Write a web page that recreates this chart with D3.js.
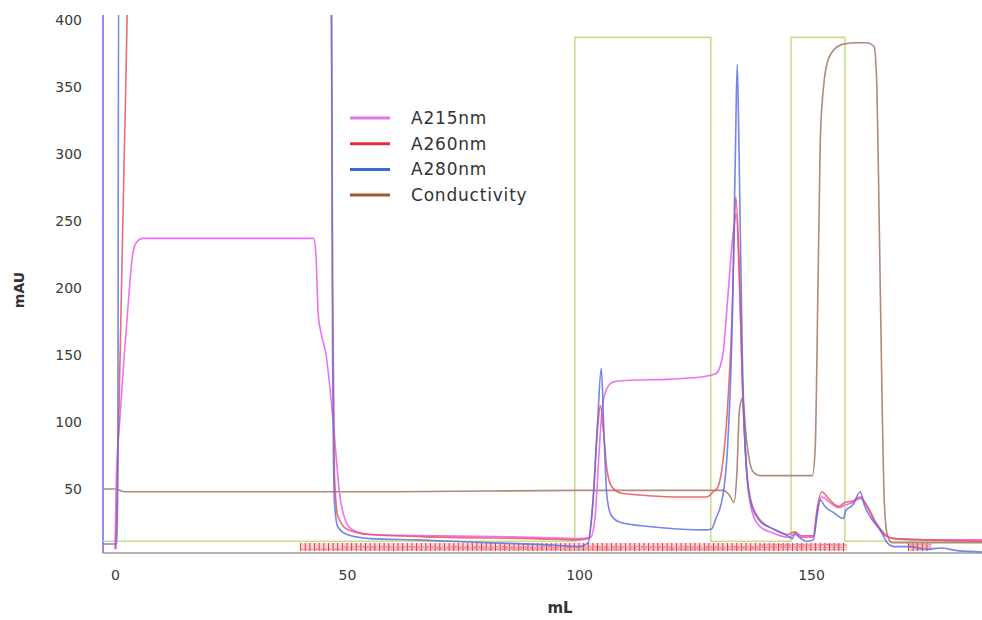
<!DOCTYPE html>
<html>
<head>
<meta charset="utf-8">
<script src="https://cdn.jsdelivr.net/npm/d3@7"></script>
<style>
  body { margin: 0; background: #fff; }
  svg { display: block; }
  text { font-family: "DejaVu Sans", Verdana, sans-serif; }
</style>
</head>
<body>
<svg id="chart"></svg>
<script>
// chromatogram traces, [mL, mAU]
const a215 = [[0, 5], [0.3, 60], [1, 100], [2, 150], [3, 195], [3.8, 225], [4.6, 234], [6, 237], [20, 237], [35, 237],
  [42.8, 237], [43.3, 225], [43.8, 180], [44.5, 165], [45.5, 150], [47, 101], [48.5, 44], [49.6, 27], [51, 20], [55, 16],
  [70, 15], [90, 14], [100, 13], [102.5, 14], [103.5, 30], [104.2, 70], [105, 110], [106, 125], [107.5, 130], [110, 131],
  [120, 132], [127, 134], [129.5, 136], [131, 150], [132, 190], [133.2, 240], [133.9, 255], [134.6, 200], [135.3, 120],
  [136.2, 60], [137.3, 33], [139, 22], [142, 17], [145, 14], [146.5, 16], [148, 14], [150.5, 14], [151.3, 32], [152.3, 44],
  [154, 40], [156, 36], [157.3, 38], [159, 40], [160.6, 43], [162, 37], [164, 24], [166, 15], [168, 13], [175, 12], [187, 12]];

const a260 = [[0.2, 5], [0.8, 100], [1.4, 200], [2.0, 300], [2.6, 400], [2.8, 450], [46.6, 450], [46.9, 200], [47.3, 60],
  [48, 30], [50, 20], [55, 16], [70, 14], [90, 13], [100, 12], [102, 13], [103, 40], [104, 95], [104.6, 112], [105.3, 92],
  [106, 65], [107, 52], [109, 47], [115, 45], [122, 44], [127.5, 44], [129, 48], [130, 52], [131, 70], [132, 110],
  [133, 180], [133.8, 268], [134.5, 220], [135.2, 130], [136, 70], [137, 42], [139, 27], [142, 20], [145, 16],
  [146.5, 18], [148, 15], [150.5, 15], [151.3, 35], [152.3, 48], [154, 42], [156, 37], [157.3, 40], [159, 41],
  [160.6, 44], [162, 38], [164, 25], [166, 16], [168, 13], [175, 12], [187, 11]];

const a280 = [[-2.5, 9], [0.4, 9], [0.6, 60], [0.8, 450], [46.6, 450], [46.9, 150], [47.3, 40], [48, 22], [50, 16], [55, 13],
  [65, 12], [80, 10], [95, 8], [100, 7], [102, 10], [103, 40], [104, 100], [104.8, 140], [105.4, 90], [106, 45], [107, 30],
  [109, 25], [115, 22], [122, 20], [127, 19.5], [128.5, 20], [129.5, 28], [131, 45], [132, 80], [133, 170], [133.7, 300],
  [134.1, 367], [134.5, 300], [135.2, 150], [136, 70], [137, 40], [139, 26], [142, 20], [145, 15], [146, 13], [146.5, 17],
  [147.5, 14], [149, 11], [150.5, 12], [151.3, 30], [151.9, 42], [153, 37], [155, 32], [157, 28], [157.5, 34], [159, 38],
  [160.6, 48], [161.5, 38], [163, 28], [165, 19], [166.4, 10], [168, 7], [171, 7], [175, 5], [178, 6], [181.5, 4], [187, 3]];

const conductivity = [[-2.6, 50], [0, 50], [2, 48], [10, 48], [40, 48], [60, 48], [100, 49], [120, 49], [131, 49],
  [132.5, 45], [133.4, 40], [134, 60], [134.6, 110], [135.3, 118], [136, 90], [136.8, 70], [137.5, 63], [139, 60],
  [150.3, 60], [150.9, 80], [151.5, 200], [152, 310], [152.7, 350], [153.5, 368], [155, 378], [157, 382], [160, 383],
  [162, 383], [163.6, 380], [164.2, 350], [164.7, 250], [165.3, 120], [165.8, 40], [166.5, 15], [167.5, 10], [187, 10]];

// valve / step trace
const stepTrace = [[-2.6, 11], [99.1, 11], [99.1, 387], [128.4, 387], [128.4, 11], [145.7, 11], [145.7, 387],
  [157.3, 387], [157.3, 11], [187, 11]];

// fraction collection ranges (mL)
const fractionRanges = [[40, 157.3], [171, 176]];

const yTicks = [50, 100, 150, 200, 250, 300, 350, 400];
const xTicks = [0, 50, 100, 150];

const legendItems = [
  { name: 'A215nm', color: '#e377e8' },
  { name: 'A260nm', color: '#e3303c' },
  { name: 'A280nm', color: '#2f6fd2' },
  { name: 'Conductivity', color: '#a0562f' }
];

const width = 982;
const height = 620;
const plotLeft = 103;
const plotTop = 15;
const plotBottom = 553;

let svg = d3.select('#chart')
  .attr('width', width)
  .attr('height', height);

let xScale = d3.scaleLinear().domain([0, 150]).range([115, 811]);
let yScale = d3.scaleLinear().domain([0, 400]).range([556, 20]);

svg.append('defs').append('clipPath')
  .attr('id', 'plot-clip')
  .append('rect')
  .attr('x', plotLeft)
  .attr('y', plotTop)
  .attr('width', width - plotLeft)
  .attr('height', plotBottom - plotTop);

// axes
let yAxis = d3.axisLeft(yScale).tickValues(yTicks).tickSize(0).tickPadding(0);
let yG = svg.append('g')
  .attr('transform', 'translate(82, 0)')
  .call(yAxis);
yG.select('.domain').remove();
yG.selectAll('text')
  .attr('font-size', 14)
  .attr('fill', '#3a3a3a')
  .attr('font-family', '"DejaVu Sans", Verdana, sans-serif');

let xAxis = d3.axisBottom(xScale).tickValues(xTicks).tickSize(0).tickPadding(0);
let xG = svg.append('g')
  .attr('transform', 'translate(0, 570)')
  .call(xAxis);
xG.select('.domain').remove();
xG.selectAll('text')
  .attr('font-size', 14)
  .attr('fill', '#3a3a3a')
  .attr('font-family', '"DejaVu Sans", Verdana, sans-serif');

svg.append('line')
  .attr('x1', plotLeft).attr('x2', width)
  .attr('y1', plotBottom).attr('y2', plotBottom)
  .attr('stroke', '#b4b4b4').attr('stroke-width', 2);

svg.append('line')
  .attr('x1', plotLeft).attr('x2', plotLeft)
  .attr('y1', plotTop).attr('y2', plotBottom)
  .attr('stroke', '#8e8ef0').attr('stroke-width', 2);

svg.append('text')
  .attr('transform', 'translate(24, 290) rotate(-90)')
  .attr('text-anchor', 'middle')
  .attr('font-size', 14)
  .attr('font-weight', 'bold')
  .attr('fill', '#333')
  .text('mAU');

svg.append('text')
  .attr('x', 560).attr('y', 613)
  .attr('text-anchor', 'middle')
  .attr('font-size', 15)
  .attr('font-weight', 'bold')
  .attr('fill', '#333')
  .text('mL');

let plot = svg.append('g').attr('clip-path', 'url(#plot-clip)');

// fraction marks
let fracG = plot.append('g');
let fracNo = 1;
fractionRanges.forEach(([start, end]) => {
  let fx0 = xScale(start);
  let fx1 = xScale(end);
  fracG.append('rect')
    .attr('x', fx0).attr('y', 543)
    .attr('width', fx1 - fx0).attr('height', 8)
    .attr('fill', '#fbd9d9');
  let fractions = d3.range(start, end, 1);
  fractions.forEach((f) => {
    fracG.append('line')
      .attr('x1', xScale(f)).attr('x2', xScale(f))
      .attr('y1', 543).attr('y2', 551)
      .attr('stroke', '#e8303a').attr('stroke-width', 1);
    fracG.append('text')
      .attr('transform', `translate(${xScale(f) + 3.6}, 550.5) rotate(-90)`)
      .attr('font-size', 3.5)
      .attr('fill', '#e8303a')
      .text(fracNo++);
  });
});

let line = d3.line()
  .x(d => xScale(d[0]))
  .y(d => yScale(d[1]));

let smooth = d3.line()
  .x(d => xScale(d[0]))
  .y(d => yScale(d[1]))
  .curve(d3.curveMonotoneX);

plot.append('path')
  .datum(stepTrace)
  .attr('d', line)
  .attr('fill', 'none')
  .attr('stroke', '#c9df8e')
  .attr('stroke-width', 1.6);

plot.append('path')
  .datum(conductivity)
  .attr('d', smooth)
  .attr('fill', 'none')
  .attr('stroke', '#b08a7a')
  .attr('stroke-width', 1.6);

plot.append('path')
  .datum(a215)
  .attr('d', smooth)
  .attr('fill', 'none')
  .attr('stroke', '#ee72ee')
  .attr('stroke-width', 1.6);

plot.append('path')
  .datum(a260)
  .attr('d', smooth)
  .attr('fill', 'none')
  .attr('stroke', '#e8525c')
  .attr('stroke-width', 1.6)
  .attr('stroke-opacity', 0.85);

plot.append('path')
  .datum(a280)
  .attr('d', smooth)
  .attr('fill', 'none')
  .attr('stroke', '#5e6ee8')
  .attr('stroke-width', 1.6)
  .attr('stroke-opacity', 0.85);

// legend
let legend = svg.append('g').attr('transform', 'translate(350, 118)');
legend.selectAll('g')
  .data(legendItems)
  .enter()
  .append('g')
  .attr('transform', (d, i) => `translate(0, ${i * 25.7})`)
  .each(function (d) {
    let g = d3.select(this);
    g.append('line')
      .attr('x1', 0).attr('x2', 40)
      .attr('stroke', d.color).attr('stroke-width', 3);
    g.append('text')
      .attr('x', 61).attr('y', 6)
      .attr('font-size', 17)
      .attr('letter-spacing', 0.8)
      .attr('fill', '#333')
      .text(d.name);
  });
</script>
</body>
</html>
